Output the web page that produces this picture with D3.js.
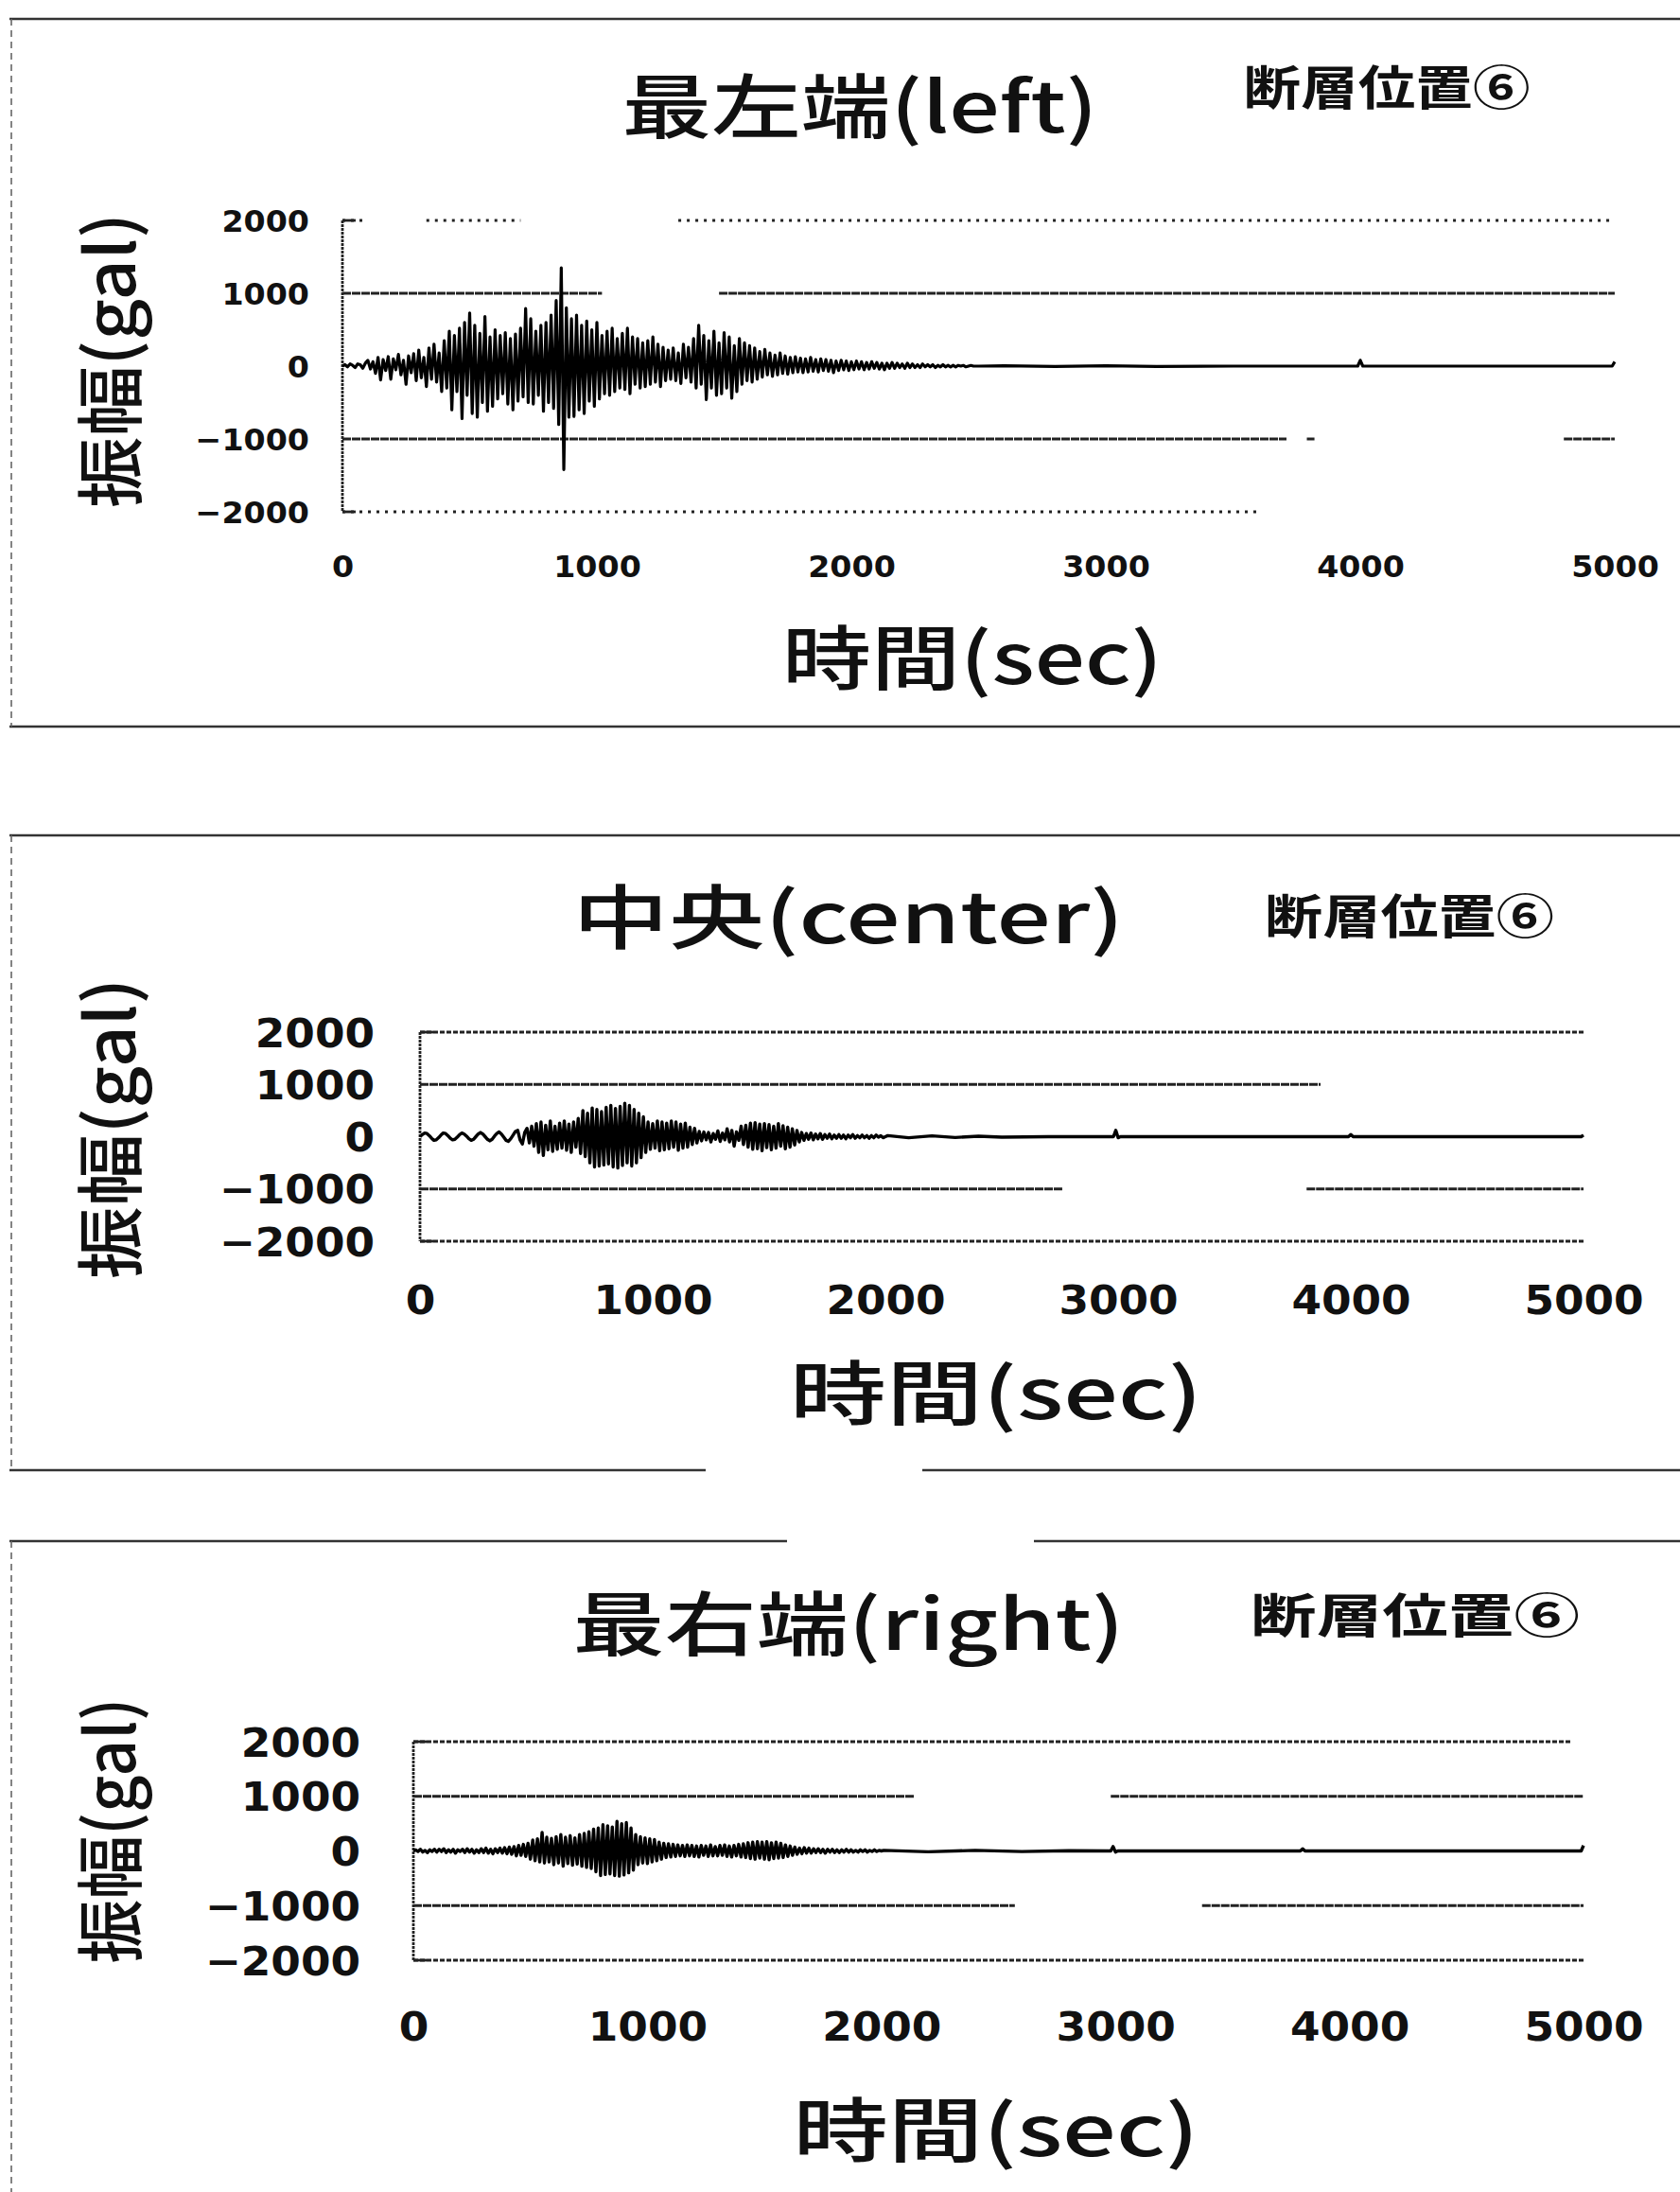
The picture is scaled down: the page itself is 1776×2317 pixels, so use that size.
<!DOCTYPE html>
<html>
<head>
<meta charset="utf-8">
<script src="https://cdn.jsdelivr.net/npm/d3@7/dist/d3.min.js"></script>
<style>
body { margin: 0; background: #fff; }
</style>
</head>
<body>
<svg id="chart" width="1776" height="2317"></svg>
<script>
// ---- data ----
var xTicks = [0, 1000, 2000, 3000, 4000, 5000];
var yTicks = [2000, 1000, 0, -1000, -2000];
var STEP = 10; // seconds between samples of the amplitude arrays

// 最左端(left): samples every 10 s from 0 to 2500 s
var leftAmp = [
  0, 20, -10, 30, 10, -20, 30, 20, -30, 40,
  80, -40, 60, -100, 120, -190, 90, -60, 130, -180,
  100, -50, 160, -120, 80, -250, 140, -90, 170, -200,
  220, -160, 120, -280, 250, -180, 300, -220, 180, -350,
  350, -300, 480, -600, 420, -350, 520, -720, 600, -400,
  730, -650, 560, -700, 450, -500, 680, -620, 400, -550,
  500, -450, 420, -380, 460, -520, 380, -600, 440, -480,
  520, -420, 790, -500, 650, -520, 480, -400, 560, -620,
  600, -500, 700, -580, 900, -800, 1350, -1420, 800, -700,
  650, -690, 700, -600, 560, -650, 620, -480, 500, -550,
  600, -450, 420, -380, 480, -400, 520, -350, 380, -300,
  450, -320, 520, -380, 400, -250, 380, -300, 320, -280,
  350, -250, 400, -220, 300, -280, 260, -200, 220, -180,
  250, -200, 180, -240, 300, -160, 260, -220, 380, -300,
  560, -250, 420, -460, 350, -300, 480, -400, 320, -380,
  460, -300, 400, -440, 280, -350, 380, -250, 320, -200,
  280, -220, 250, -180, 200, -150, 230, -120, 180, -140,
  150, -120, 180, -100, 140, -110, 120, -90, 130, -80,
  110, -90, 100, -80, 120, -70, 90, -80, 100, -60,
  90, -70, 80, -90, 70, -60, 80, -50, 70, -60,
  60, -50, 70, -40, 60, -50, 50, -40, 60, -30,
  50, -40, 40, -50, 40, -30, 50, -30, 40, -20,
  30, -30, 40, -20, 30, -20, 20, -20, 30, -10,
  20, -10, 20, -20, 10, -10, 20, -10, 10, -10,
  10, -10, 10, 0, 10, -10, 0, 10, 0, 0,
  0
];
var leftTailT = [2600, 2800, 3000, 3200, 3500, 3990, 4000, 4010, 4500, 4990, 5000];
var leftTailV = [5, -5, 5, -5, 0, 0, 80, 0, 0, 0, 60];

// 中央(center): samples every 10 s from 0 to 2000 s
var centerAmp = [
  0, 40, 70, 60, 20, -30, -70, -60, -20, 30,
  70, 60, 20, -30, -60, -50, -10, 40, 70, 50,
  10, -40, -70, -50, 0, 50, 80, 50, 0, -50,
  -80, -50, 10, 60, 90, 50, -10, -70, -90, -40,
  30, 100, 120, -60, -140, 80, 160, -120, 200, -180,
  250, -300, 280, -360, 220, -250, 300, -280, 200, -240,
  260, -220, 300, -260, 240, -300, 280, -200, 350, -320,
  500, -380, 450, -500, 550, -580, 520, -560, 480, -540,
  560, -520, 600, -580, 540, -600, 580, -550, 640, -500,
  600, -560, 520, -500, 450, -400, 380, -300, 280, -240,
  250, -220, 300, -270, 280, -250, 260, -230, 300, -200,
  280, -260, 240, -220, 260, -200, 180, -150, 160, -120,
  100, -80, 90, -60, 80, -100, 60, -50, 110, -90,
  70, -60, 150, -100, 120, -180, 90, -70, 200, -150,
  220, -200, 260, -240, 270, -230, 240, -270, 250, -210,
  230, -250, 200, -220, 250, -180, 210, -230, 180, -200,
  150, -160, 120, -100, 80, -70, 60, -50, 70, -60,
  50, -40, 60, -50, 40, -30, 50, -40, 30, -30,
  40, -30, 30, -40, 30, -20, 40, -30, 20, -20,
  30, -20, 20, -30, 20, -20, 30, -10, 20, -20,
  0
];
var centerTailT = [2010, 2100, 2200, 2300, 2400, 2500, 2700, 2980, 2990, 3000, 3010, 3500, 3990, 4000, 4010, 4500, 4990, 5000];
var centerTailV = [20, -20, 15, -15, 10, -10, 0, 0, 120, -20, 0, 0, 0, 40, 0, 0, 0, 30];

// 最右端(right): samples every 10 s from 0 to 2000 s
var rightAmp = [
  0, 20, -10, 30, -20, 10, -30, 20, -10, 30,
  -20, 30, -10, 40, -30, 20, -20, 30, -40, 20,
  -10, 30, -30, 40, -20, 30, -40, 20, -30, 40,
  -30, 50, -40, 30, -50, 40, -30, 50, -40, 60,
  -50, 70, -60, 80, -90, 100, -80, 120, -100, 140,
  -150, 200, -180, 220, -200, 340, -220, 250, -200, 230,
  -250, 260, -220, 300, -280, 250, -230, 280, -260, 240,
  -240, 300, -280, 320, -300, 350, -320, 400, -380, 420,
  -450, 480, -430, 460, -420, 440, -450, 540, -460, 500,
  -440, 520, -400, 420, -350, 300, -250, 260, -220, 240,
  -230, 220, -200, 210, -180, 160, -150, 140, -120, 130,
  -110, 120, -100, 110, -90, 100, -100, 110, -90, 100,
  -100, 90, -110, 100, -80, 90, -100, 110, -90, 80,
  -90, 100, -80, 110, -100, 90, -110, 100, -90, 120,
  -110, 130, -120, 150, -140, 160, -150, 170, -130, 160,
  -150, 170, -160, 150, -140, 160, -130, 140, -120, 110,
  -100, 90, -80, 70, -60, 50, -50, 60, -40, 50,
  -40, 40, -30, 40, -30, 30, -40, 30, -20, 30,
  -30, 20, -30, 20, -20, 30, -20, 20, -20, 10,
  -20, 20, -10, 20, -20, 10, -10, 20, -10, 10,
  0
];
var rightTailT = [2010, 2200, 2400, 2600, 2800, 2980, 2990, 3000, 3010, 3400, 3790, 3800, 3810, 4200, 4600, 4990, 5000];
var rightTailV = [10, -15, 10, -10, 5, 0, 80, -20, 0, 0, 0, 40, 0, 0, 0, 0, 100];

// visible stretches of the printed gridlines, [level, [[from sec, to sec], ...]]
var leftGrid = [
  [2000, [[0, 90], [330, 700], [1320, 5000]]],
  [1000, [[0, 1020], [1480, 5000]]],
  [-1000, [[0, 3710], [3790, 3820], [4800, 5000]]],
  [-2000, [[0, 3600]]]
];
var centerGrid = [
  [2000, [[0, 5000]]],
  [1000, [[0, 3870]]],
  [-1000, [[0, 2760], [3810, 5000]]],
  [-2000, [[0, 5000]]]
];
var rightGrid = [
  [2000, [[0, 4950]]],
  [1000, [[0, 2140], [2980, 5000]]],
  [-1000, [[0, 2570], [3370, 5000]]],
  [-2000, [[0, 5000]]]
];

var titles = ["最左端(left)", "中央(center)", "最右端(right)"];
var faultLabel = "断層位置⑥";
var xTitle = "時間(sec)";
var yTitle = "振幅(gal)";

// ---- layout ----
var panels = [
  { title: titles[0], amp: leftAmp, tailT: leftTailT, tailV: leftTailV, grid: leftGrid,
    x0: 362, x1: 1707, yTop: 233, yBot: 541, wave: 3.2,
    tick: 32, tickSx: 1.04, xLabY: 598, yLabX: 327,
    tX: 909, tY: 107, tW: 503, fX: 1466, fY: 89, fW: 303,
    xtX: 1028, xtY: 691, xtW: 402, ytX: 112, ytY: 381, ytL: 312,
    outer: { top: 20, bottom: 768, topGap: null, botGap: null }, sparse: true },
  { title: titles[1], amp: centerAmp, tailT: centerTailT, tailV: centerTailV, grid: centerGrid,
    x0: 444, x1: 1674, yTop: 1091, yBot: 1312, wave: 3.4,
    tick: 42, tickSx: 1.08, xLabY: 1374, yLabX: 396,
    tX: 897, tY: 965, tW: 583, fX: 1490, fY: 965, fW: 306,
    xtX: 1053, xtY: 1468, xtW: 436, ytX: 112, ytY: 1193, ytL: 318,
    outer: { top: 883, bottom: 1554, topGap: null, botGap: [746, 975] }, sparse: false },
  { title: titles[2], amp: rightAmp, tailT: rightTailT, tailV: rightTailV, grid: rightGrid,
    x0: 437, x1: 1674, yTop: 1841, yBot: 2072, wave: 3.4,
    tick: 42, tickSx: 1.08, xLabY: 2142, yLabX: 381,
    tX: 897, tY: 1712, tW: 583, fX: 1496, fY: 1704, fW: 348,
    xtX: 1053, xtY: 2247, xtW: 429, ytX: 112, ytY: 1935, ytL: 281,
    outer: { top: 1629, bottom: null, topGap: [832, 1093], botGap: null }, sparse: false }
];

var svg = d3.select("#chart");
var CJK = "'Noto Sans CJK JP', sans-serif";
var NUM = "'DejaVu Sans', sans-serif";

// text centred on (cx, cy) and stretched sideways to a given width, like the scan
function fitText(g, str, cx, cy, size, width, weight) {
  var t = g.append("text")
    .attr("text-anchor", "middle")
    .attr("dominant-baseline", "central")
    .style("font-family", CJK)
    .style("font-size", size + "px")
    .style("font-weight", weight)
    .attr("fill", "#111")
    .text(str);
  var n = t.node().getComputedTextLength();
  t.attr("transform", "translate(" + cx + "," + cy + ") scale(" + (width / n) + ",1)");
  return t;
}

function hline(g, x1, x2, y, color, w, dash) {
  g.append("line").attr("x1", x1).attr("x2", x2).attr("y1", y).attr("y2", y)
    .attr("stroke", color).attr("stroke-width", w).attr("stroke-dasharray", dash);
}

panels.forEach(function (p) {
  var g = svg.append("g");
  var x = d3.scaleLinear().domain([0, 5000]).range([p.x0, p.x1]);
  var y = d3.scaleLinear().domain([-2000, 2000]).range([p.yBot, p.yTop]);

  // outer frame of each figure box
  var o = p.outer;
  if (o.top != null) {
    if (o.topGap) {
      hline(g, 10, o.topGap[0], o.top, "#333", 2.6, null);
      hline(g, o.topGap[1], 1776, o.top, "#333", 2.6, null);
    } else hline(g, 10, 1776, o.top, "#333", 2.6, null);
  }
  if (o.bottom != null) {
    if (o.botGap) {
      hline(g, 10, o.botGap[0], o.bottom, "#333", 2.6, null);
      hline(g, o.botGap[1], 1776, o.bottom, "#333", 2.6, null);
    } else hline(g, 10, 1776, o.bottom, "#333", 2.6, null);
  }
  g.append("line").attr("x1", 12).attr("x2", 12)
    .attr("y1", o.top).attr("y2", o.bottom == null ? 2317 : o.bottom)
    .attr("stroke", "#666").attr("stroke-width", 1.6).attr("stroke-dasharray", "7,5");

  // gridlines (only the parts that survived the scan)
  p.grid.forEach(function (row) {
    var lev = row[0];
    var edge = Math.abs(lev) === 2000;
    row[1].forEach(function (s) {
      hline(g, x(s[0]), x(s[1]), y(lev), "#222", 3,
        edge ? (p.sparse ? "3,6" : "5,2") : "9,1");
    });
  });

  // left axis line
  g.append("line").attr("x1", x(0)).attr("x2", x(0)).attr("y1", y(2000)).attr("y2", y(-2000))
    .attr("stroke", "#222").attr("stroke-width", 2.8).attr("stroke-dasharray", "3,1");
  hline(g, x(0), x(0) + 14, y(2000), "#222", 2.8, null);
  hline(g, x(0), x(0) + 14, y(-2000), "#222", 2.8, null);

  // waveform
  var pts = p.amp.map(function (v, i) { return [i * STEP, v]; })
    .concat(p.tailT.map(function (t, i) { return [t, p.tailV[i]]; }));
  g.append("path").datum(pts)
    .attr("d", d3.line().x(function (d) { return x(d[0]); }).y(function (d) { return y(d[1]); }))
    .attr("fill", "none").attr("stroke", "#000").attr("stroke-width", p.wave)
    .attr("stroke-linejoin", "round");

  // axes: labels only
  var fmt = d3.format("d");
  var ya = g.append("g").attr("transform", "translate(" + p.yLabX + ",0)")
    .call(d3.axisLeft(y).tickValues(yTicks).tickSize(0).tickPadding(0).tickFormat(fmt));
  var xa = g.append("g").attr("transform", "translate(0," + p.xLabY + ")")
    .call(d3.axisBottom(x).tickValues(xTicks).tickSize(0).tickPadding(0).tickFormat(fmt));
  [ya, xa].forEach(function (a) {
    a.select(".domain").remove();
    a.selectAll("text")
      .style("font-family", NUM).style("font-weight", "bold")
      .style("font-size", p.tick + "px").attr("fill", "#111")
      .attr("transform", "scale(" + p.tickSx + ",1)");
  });
  ya.selectAll("text").attr("x", 0).attr("dy", "0.36em");
  xa.selectAll("text").attr("y", 0).attr("dy", "0.36em");

  // titles
  fitText(g, p.title, p.tX, p.tY, 74, p.tW, 500);
  fitText(g, faultLabel, p.fX, p.fY, 50, p.fW, 700);
  fitText(g, xTitle, p.xtX, p.xtY, 74, p.xtW, 500);

  var yt = g.append("text")
    .attr("text-anchor", "middle").attr("dominant-baseline", "central")
    .style("font-family", CJK).style("font-size", "72px").style("font-weight", 500)
    .attr("fill", "#111").text(yTitle);
  var n = yt.node().getComputedTextLength();
  yt.attr("transform", "translate(" + p.ytX + "," + p.ytY + ") rotate(-90) scale(" + (p.ytL / n) + ",1)");
});
</script>
</body>
</html>
